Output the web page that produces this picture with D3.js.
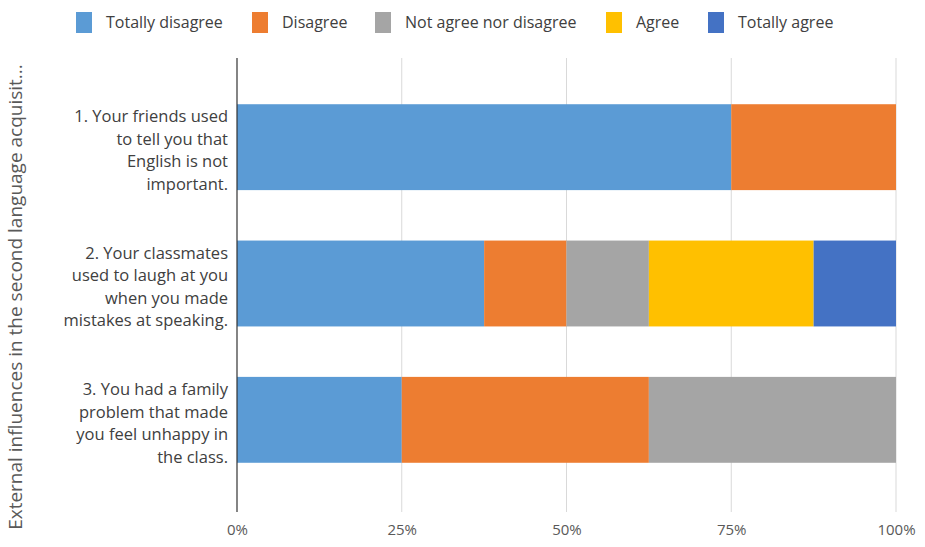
<!DOCTYPE html>
<html><head><meta charset="utf-8">
<script src="https://cdn.jsdelivr.net/npm/d3@7"></script>
<style>body{margin:0;background:#fff}svg{display:block}text{font-family:"Open Sans",sans-serif}</style>
</head><body><svg id="c" width="925" height="547"></svg>
<script>
const categories = [
  ["1. Your friends used","to tell you that","English is not","important."],
  ["2. Your classmates","used to laugh at you","when you made","mistakes at speaking."],
  ["3. You had a family","problem that made","you feel unhappy in","the class."]
];
const seriesNames = ["Totally disagree","Disagree","Not agree nor disagree","Agree","Totally agree"];
const colors = ["#5B9BD5","#ED7D31","#A5A5A5","#FFC000","#4472C4"];
const totallyDisagree = [75, 37.5, 25];
const disagree = [25, 12.5, 37.5];
const neutral = [0, 12.5, 37.5];
const agree = [0, 25, 0];
const totallyAgree = [0, 12.5, 0];
const tickValues = [0, 25, 50, 75, 100];
const yTitle = "External influences in the second language acquisit...";

const series = [totallyDisagree, disagree, neutral, agree, totallyAgree];
const svg = d3.select("#c");
const x = d3.scaleLinear().domain([0,100]).range([237,896]);
const y = d3.scaleBand().domain([0,1,2]).range([79,488]).paddingInner(0.37).paddingOuter(0.185);

// gridlines
svg.append("g").selectAll("line").data(tickValues.slice(1)).join("line")
  .attr("x1",d=>x(d)).attr("x2",d=>x(d)).attr("y1",58).attr("y2",512)
  .attr("stroke","#d9d9d9").attr("stroke-width",1);

// stacked bars
const rows = categories.map((c,i)=>{const o={idx:i}; series.forEach((s,k)=>o[k]=s[i]); return o;});
const stack = d3.stack().keys(d3.range(series.length))(rows);
svg.append("g").selectAll("g").data(stack).join("g").attr("fill",(d,i)=>colors[i])
  .selectAll("rect").data(d=>d).join("rect")
  .attr("x",d=>x(d[0])).attr("width",d=>x(d[1])-x(d[0]))
  .attr("y",(d,i)=>y(i)).attr("height",y.bandwidth());

// zero axis
svg.append("line").attr("x1",x(0)).attr("x2",x(0)).attr("y1",58).attr("y2",512)
  .attr("stroke","#333").attr("stroke-width",1.2);

// x tick labels
const xAxis = d3.axisBottom(x).tickValues(tickValues).tickFormat(d=>d+"%").tickSize(0).tickPadding(0);
const gx = svg.append("g").attr("transform","translate(0,524)").call(xAxis);
gx.select(".domain").remove();
gx.selectAll("text").attr("font-size",15).attr("fill","#595959").attr("font-family","Open Sans");

// category labels
categories.forEach((lines,i)=>{
  const cy = y(i)+y.bandwidth()/2;
  const t = svg.append("text").attr("text-anchor","end").attr("font-size",16.5).attr("fill","#404040");
  lines.forEach((l,j)=>{
    t.append("tspan").attr("x",228).attr("y",cy + (j-1.5)*22.5 + 9).text(l);
  });
});

// y title
svg.append("text").attr("transform","translate(22,297) rotate(-90)").attr("text-anchor","middle")
  .attr("font-size",19).attr("fill","#595959").text(yTitle);

// legend
const legX = [76, 252, 375, 606, 708];
const lg = svg.append("g");
seriesNames.forEach((n,i)=>{
  lg.append("rect").attr("x",legX[i]).attr("y",12).attr("width",16).attr("height",21).attr("fill",colors[i]);
  lg.append("text").attr("x",legX[i]+30).attr("y",28).attr("font-size",16).attr("fill","#404040").text(n);
});
</script></body></html>
